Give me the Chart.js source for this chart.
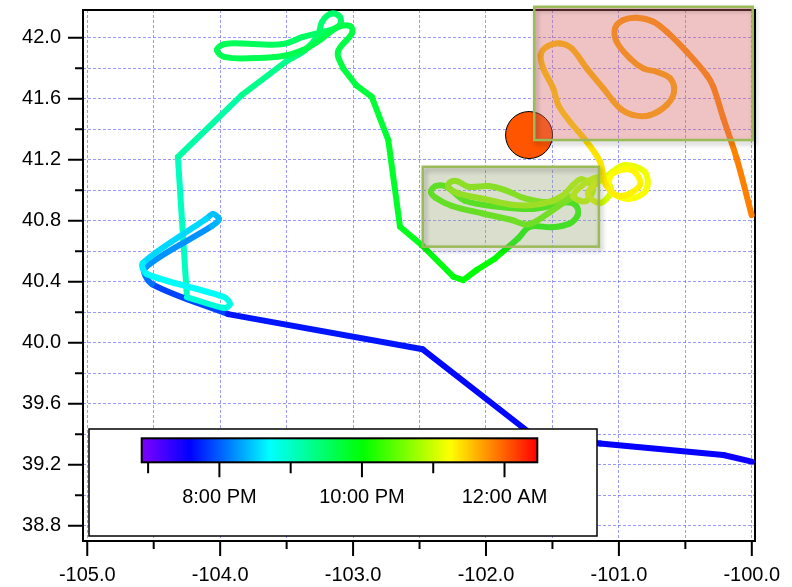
<!DOCTYPE html>
<html>
<head>
<meta charset="utf-8">
<script src="https://cdn.jsdelivr.net/npm/chart.js@4.4.1/dist/chart.umd.min.js"></script>
<style>
  html, body { margin: 0; padding: 0; background: #fff; }
  #wrap { width: 792px; height: 587px; }
</style>
</head>
<body>
<div id="wrap"><canvas id="track"></canvas></div>
<script>
// ===== DATA =====
const lon = [
  -100.000, -100.214, -101.142, -101.631, -102.476, -103.941,
  -104.513, -104.566, -104.062, -104.009, -104.054, -104.107, -104.581, -104.551, -103.971, -103.926,
  -103.971, -104.250,
  -104.318, -103.838, -103.500, -103.362, -103.264, -103.234, -103.174, -103.114, -103.091, -103.129,
  -103.234, -103.377, -103.527, -103.753, -103.964, -104.024, -103.964, -103.723, -103.527, -103.377,
  -103.249, -103.114, -103.023, -103.008, -103.114, -103.076, -102.978, -102.860, -102.735, -102.647,
  -102.484, -102.246, -102.171, -102.070,
  -101.932, -101.757, -101.669, -101.506, -101.375, -101.310, -101.321, -101.385, -101.481, -101.656,
  -101.907, -102.158, -102.296, -102.379, -102.414, -102.379, -102.258, -102.032, -101.807, -101.682,
  -101.531, -101.406, -101.338, -101.518, -101.707, -101.857, -101.983, -102.133, -102.220, -102.271,
  -102.284, -102.208, -102.008, -101.782, -101.594, -101.428,
  -101.345, -101.278, -101.195, -101.248, -101.345, -101.217, -101.120, -101.059, -101.142, -101.233,
  -101.052, -100.954, -100.804, -100.796, -100.932, -101.067, -101.052, -100.901, -100.841, -100.992,
  -101.097, -101.142, -101.242, -101.368, -101.456, -101.494, -101.569, -101.588, -101.543, -101.443,
  -101.355, -101.242, -101.117, -100.992, -100.892, -100.766, -100.640, -100.585, -100.615, -100.716,
  -100.816, -100.917, -101.017, -101.029, -100.967, -100.866, -100.741, -100.640, -100.490, -100.339,
  -100.290, -100.214, -100.114, -100.001
]
const lat = [
  39.220, 39.264, 39.340, 39.382, 39.957, 40.188,
  40.385, 40.490, 40.765, 40.811, 40.844, 40.811, 40.523, 40.450, 40.300, 40.254,
  40.228, 40.300,
  41.218, 41.624, 41.847, 41.919, 42.018, 42.103, 42.155, 42.149, 42.103, 42.064,
  42.037, 42.005, 41.959, 41.959, 41.959, 41.919, 41.873, 41.867, 41.880, 41.919,
  41.985, 42.070, 42.077, 42.031, 41.906, 41.801, 41.690, 41.613, 41.329, 40.761,
  40.641, 40.433, 40.411, 40.477,
  40.553, 40.685, 40.761, 40.757, 40.780, 40.837, 40.898, 40.921, 40.903, 40.877,
  40.892, 40.931, 41.023, 41.028, 40.990, 40.951, 40.898, 40.849, 40.805, 40.776,
  40.849, 40.925, 40.962, 40.923, 40.947, 41.001, 41.028, 41.023, 41.060, 41.052,
  41.019, 40.980, 40.942, 40.903, 40.909, 40.962,
  41.034, 41.073, 41.014, 40.929, 40.962, 41.067, 41.080, 40.995, 40.916, 40.982,
  41.119, 41.165, 41.119, 41.001, 40.942, 41.001, 41.106, 41.132, 41.034, 40.962,
  41.034, 41.187, 41.318, 41.449, 41.559, 41.668, 41.799, 41.887, 41.941, 41.963,
  41.930, 41.799, 41.668, 41.537, 41.493, 41.493, 41.559, 41.646, 41.734, 41.777,
  41.799, 41.865, 41.974, 42.062, 42.116, 42.131, 42.105, 42.039, 41.908, 41.755,
  41.679, 41.471, 41.209, 40.837
]
// time of each fix, decimal hours (24 = midnight)
const hours = [
  19.50, 19.53, 19.58, 19.60, 19.64, 19.72,
  20.05, 20.12, 20.35, 20.40, 20.43, 20.46, 20.62, 20.66, 20.80, 20.83,
  20.86, 20.95,
  21.10, 21.25, 21.36, 21.40, 21.43, 21.45, 21.47, 21.48, 21.49, 21.50,
  21.51, 21.52, 21.53, 21.55, 21.57, 21.58, 21.59, 21.60, 21.61, 21.62,
  21.63, 21.64, 21.65, 21.66, 21.67, 21.68, 21.70, 21.72, 21.77, 21.86,
  21.90, 21.96, 21.98, 22.00,
  22.03, 22.06, 22.08, 22.12, 22.15, 22.17, 22.19, 22.20, 22.22, 22.25,
  22.28, 22.31, 22.33, 22.34, 22.35, 22.36, 22.38, 22.41, 22.44, 22.46,
  22.49, 22.52, 22.54, 22.57, 22.60, 22.62, 22.64, 22.66, 22.68, 22.69,
  22.70, 22.71, 22.74, 22.77, 22.80, 22.83,
  22.86, 22.88, 22.90, 22.92, 22.94, 22.97, 23.00, 23.02, 23.04, 23.06,
  23.10, 23.13, 23.16, 23.19, 23.21, 23.23, 23.25, 23.27, 23.29, 23.31,
  23.33, 23.36, 23.39, 23.42, 23.44, 23.46, 23.49, 23.51, 23.52, 23.53,
  23.54, 23.56, 23.58, 23.60, 23.61, 23.62, 23.63, 23.64, 23.65, 23.66,
  23.67, 23.68, 23.69, 23.70, 23.71, 23.72, 23.73, 23.75, 23.77, 23.79,
  23.80, 23.82, 23.84, 23.86
]
// stretches of the track: [first index, last index, smoothing]
const legs = [[0, 5, 0], [5, 17, 0.3], [17, 20, 0], [20, 43, 0.4], [43, 52, 0], [52, 141, 0.35]]

const markerLon = [-101.676]
const markerLat = [41.362]

// shaded regions: [west, east] and [south, north]
const boxLon = [[-101.637, -99.993], [-102.476, -101.150]]
const boxLat = [[41.329, 42.203], [40.630, 41.154]]

const xMajor = [-105, -104, -103, -102, -101, -100]
const xMinor = [-104.5, -103.5, -102.5, -101.5, -100.5]
const yMajor = [38.8, 39.2, 39.6, 40.0, 40.4, 40.8, 41.2, 41.6, 42.0]
const yMinor = [39.0, 39.4, 39.8, 40.2, 40.6, 41.0, 41.4, 41.8]

const cbRange  = [18.91, 24.46]
const cbTicks  = [19, 20, 21, 22, 23, 24]
const cbLabels = ["", "8:00 PM", "", "10:00 PM", "", "12:00 AM"]
const cmapStops  = [0, 0.122, 0.324, 0.56, 0.78, 1]
const cmapColors = [[128, 0, 255], [0, 0, 255], [0, 255, 255], [0, 255, 0], [255, 255, 0], [255, 0, 0]]

const FONT = "'Liberation Sans', Arial, sans-serif"

// ===== COLOUR MAP =====
function cmap(t) {
  const f = Math.min(1, Math.max(0, (t - cbRange[0]) / (cbRange[1] - cbRange[0])))
  let i = 1
  while (i < cmapStops.length - 1 && f > cmapStops[i]) i++
  const k = (f - cmapStops[i - 1]) / (cmapStops[i] - cmapStops[i - 1])
  const c = cmapColors[i - 1].map((v, j) => Math.round(v + (cmapColors[i][j] - v) * k))
  return `rgb(${c[0]},${c[1]},${c[2]})`
}

// ===== PLUGINS =====
const frame = {
  id: "frame",
  beforeDatasetsDraw(chart) {
    const { ctx, chartArea: a, scales: { x, y } } = chart
    ctx.save()
    ctx.strokeStyle = "#000"
    ctx.lineWidth = 2
    ctx.strokeRect(a.left, a.top, a.right - a.left, a.bottom - a.top)
    ctx.beginPath()
    xMajor.forEach(v => { const p = x.getPixelForValue(v); ctx.moveTo(p, a.bottom); ctx.lineTo(p, a.bottom + 15) })
    xMinor.forEach(v => { const p = x.getPixelForValue(v); ctx.moveTo(p, a.bottom); ctx.lineTo(p, a.bottom + 8) })
    yMajor.forEach(v => { const p = y.getPixelForValue(v); ctx.moveTo(a.left, p); ctx.lineTo(a.left - 15, p) })
    yMinor.forEach(v => { const p = y.getPixelForValue(v); ctx.moveTo(a.left, p); ctx.lineTo(a.left - 8, p) })
    ctx.stroke()
    ctx.restore()
  }
}

const regions = {
  id: "regions",
  beforeDatasetDraw(chart, args) {
    if (args.index !== 1) return
    const { ctx, scales: { x, y } } = chart
    const fills = ["rgba(215,105,105,0.4)", "rgba(150,160,110,0.35)"]
    boxLon.forEach((bl, i) => {
      const x0 = x.getPixelForValue(bl[0]), x1 = x.getPixelForValue(bl[1])
      const y0 = y.getPixelForValue(boxLat[i][1]), y1 = y.getPixelForValue(boxLat[i][0])
      ctx.save()
      ctx.fillStyle = fills[i]
      ctx.fillRect(x0, y0, x1 - x0, y1 - y0)
      ctx.shadowColor = "rgba(0,0,0,0.3)"
      ctx.shadowBlur = 5
      ctx.shadowOffsetX = 2
      ctx.shadowOffsetY = 3
      ctx.strokeStyle = "#9bbb59"
      ctx.lineWidth = 2.5
      ctx.strokeRect(x0, y0, x1 - x0, y1 - y0)
      ctx.restore()
    })
  }
}

const colorbar = {
  id: "colorbar",
  afterDatasetsDraw(chart) {
    const { ctx, chartArea: a } = chart
    const bx = a.left + 6, by = a.bottom - 112, bw = 508, bh = 107
    ctx.save()
    ctx.fillStyle = "#fff"
    ctx.fillRect(bx, by, bw, bh)
    ctx.strokeStyle = "#000"
    ctx.lineWidth = 1.5
    ctx.strokeRect(bx, by, bw, bh)

    const cx = bx + 52.7, cy = by + 9.3, cw = 395.6, ch = 24
    const grad = ctx.createLinearGradient(cx, 0, cx + cw, 0)
    cmapStops.forEach((s, i) => grad.addColorStop(s, `rgb(${cmapColors[i].join(",")})`))
    ctx.fillStyle = grad
    ctx.fillRect(cx, cy, cw, ch)
    ctx.lineWidth = 2
    ctx.strokeRect(cx, cy, cw, ch)

    ctx.font = `20px ${FONT}`
    ctx.fillStyle = "#000"
    ctx.textAlign = "center"
    ctx.textBaseline = "alphabetic"
    ctx.beginPath()
    cbTicks.forEach((t, i) => {
      const px = cx + (t - cbRange[0]) / (cbRange[1] - cbRange[0]) * cw
      ctx.moveTo(px, cy + ch)
      ctx.lineTo(px, cy + ch + (cbLabels[i] ? 15 : 11))
      if (cbLabels[i]) ctx.fillText(cbLabels[i], px, cy + ch + 41)
    })
    ctx.stroke()
    ctx.restore()
  }
}

// ===== CHART =====
const gridOpts = { color: "rgba(110,110,255,0.7)", lineWidth: 1, drawTicks: false, borderDash: [3, 2] }
const tickFont = { family: FONT, size: 20 }

function noPad(s) {
  s.paddingLeft = 0
  s.paddingRight = 0
  s.paddingTop = 0
  s.paddingBottom = 0
}

const trackSets = legs.map(([from, to, tension]) => ({
  data: lon.slice(from, to + 1).map((v, i) => ({ x: v, y: lat[from + i] })),
  borderColor: cmap(hours[from]),
  borderWidth: 6,
  borderCapStyle: "round",
  borderJoinStyle: "round",
  pointRadius: 0,
  tension,
  segment: {
    borderColor: c => cmap((hours[from + c.p0DataIndex] + hours[from + c.p1DataIndex]) / 2)
  },
  order: 1
}))

new Chart(document.getElementById("track"), {
  type: "line",
  data: {
    datasets: [
      {
        data: markerLon.map((v, i) => ({ x: v, y: markerLat[i] })),
        showLine: false,
        pointRadius: 23.5,
        pointBackgroundColor: "#ff5500",
        pointBorderColor: "#000",
        pointBorderWidth: 1,
        order: 2
      },
      ...trackSets
    ]
  },
  options: {
    responsive: true,
    maintainAspectRatio: false,
    animation: false,
    layout: { autoPadding: false, padding: { top: 10, right: 37, left: 0, bottom: 0 } },
    plugins: { legend: { display: false }, tooltip: { enabled: false } },
    scales: {
      x: {
        type: "linear",
        min: -105.032,
        max: -99.976,
        afterBuildTicks: s => { s.ticks = [...xMajor, ...xMinor].sort((p, q) => p - q).map(v => ({ value: v })) },
        afterFit: s => { s.height = 46; noPad(s) },
        ticks: {
          callback: v => xMajor.includes(v) ? v.toFixed(1) : "",
          autoSkip: false, maxRotation: 0, padding: 22, color: "#000", font: tickFont
        },
        grid: gridOpts,
        border: { display: false, dash: [3, 2] }
      },
      y: {
        type: "linear",
        min: 38.70,
        max: 42.182,
        afterBuildTicks: s => { s.ticks = [...yMajor, ...yMinor].sort((p, q) => p - q).map(v => ({ value: v })) },
        afterFit: s => { s.width = 83; noPad(s) },
        ticks: {
          callback: v => yMajor.includes(v) ? v.toFixed(1) : "",
          autoSkip: false, padding: 22, color: "#000", font: tickFont
        },
        grid: gridOpts,
        border: { display: false, dash: [3, 2] }
      }
    }
  },
  plugins: [frame, regions, colorbar]
})
</script>
</body>
</html>
